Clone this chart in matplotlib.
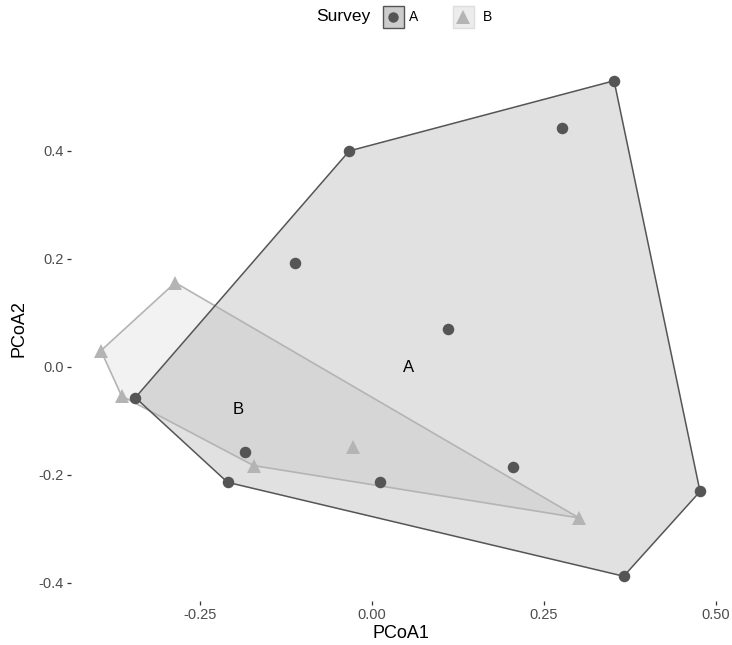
import numpy as np
import matplotlib
matplotlib.use("Agg")
import matplotlib.pyplot as plt
from matplotlib.patches import Polygon, Rectangle
from matplotlib.lines import Line2D

plt.rcParams['font.family'] = ['Liberation Sans', 'DejaVu Sans']

# PCoA site scores, by survey
a_x = [0.352, 0.277, -0.033, -0.112, 0.111, -0.344, -0.184, -0.210, 0.012, 0.205, 0.477, 0.366]
a_y = [0.530, 0.443, 0.400, 0.192, 0.070, -0.057, -0.158, -0.214, -0.214, -0.186, -0.231, -0.388]
b_x = [-0.286, -0.394, -0.364, -0.172, -0.027, 0.301]
b_y = [0.156, 0.030, -0.054, -0.183, -0.149, -0.280]

# group label positions
label_names = ["A", "B"]
label_x = [0.053, -0.194]
label_y = [-0.001, -0.080]

x_ticks = [-0.25, 0.00, 0.25, 0.50]
x_tick_labels = ["-0.25", "0.00", "0.25", "0.50"]
y_ticks = [-0.4, -0.2, 0.0, 0.2, 0.4]
y_tick_labels = ["-0.4", "-0.2", "0.0", "0.2", "0.4"]


def convex_hull(xs, ys):
    pts = sorted(set(zip(xs, ys)))
    if len(pts) <= 2:
        return pts

    def cross(o, a, b):
        return (a[0] - o[0]) * (b[1] - o[1]) - (a[1] - o[1]) * (b[0] - o[0])

    lower, upper = [], []
    for p in pts:
        while len(lower) >= 2 and cross(lower[-2], lower[-1], p) <= 0:
            lower.pop()
        lower.append(p)
    for p in reversed(pts):
        while len(upper) >= 2 and cross(upper[-2], upper[-1], p) <= 0:
            upper.pop()
        upper.append(p)
    return lower[:-1] + upper[:-1]


W, H = 732, 645
fig = plt.figure(figsize=(W / 100, H / 100), dpi=100)
ax = fig.add_axes([71 / W, 1 - 601 / H, (730 - 71) / W, (601 - 56) / H])

col_a = "#555555"
col_b = "#b4b4b4"

# hulls
hull_b = convex_hull(b_x, b_y)
ax.add_patch(Polygon(hull_b, closed=True, facecolor="#b4b4b4", alpha=0.17,
                     edgecolor="none", zorder=1))
ax.add_patch(Polygon(hull_b, closed=True, facecolor="none",
                     edgecolor=col_b, lw=1.2, zorder=2))
hull_a = convex_hull(a_x, a_y)
ax.add_patch(Polygon(hull_a, closed=True, facecolor="#4d4d4d", alpha=0.17,
                     edgecolor="none", zorder=1))
ax.add_patch(Polygon(hull_a, closed=True, facecolor="none",
                     edgecolor=col_a, lw=1.1, zorder=2))

# points
ax.plot(a_x, a_y, linestyle="none", marker="o", markersize=8.3,
        color=col_a, markeredgewidth=0, zorder=4)
ax.plot(b_x, b_y, linestyle="none", marker="^", markersize=10.5,
        color=col_b, markeredgewidth=0, zorder=4)

for name, lx, ly in zip(label_names, label_x, label_y):
    ax.text(lx, ly, name, ha="center", va="center", fontsize=12,
            color="black", zorder=5)

# limits with a 5% margin around the data
all_x = a_x + b_x
all_y = a_y + b_y
rx = max(all_x) - min(all_x)
ry = max(all_y) - min(all_y)
ax.set_xlim(min(all_x) - 0.05 * rx, max(all_x) + 0.05 * rx)
ax.set_ylim(min(all_y) - 0.05 * ry, max(all_y) + 0.05 * ry)

ax.set_xticks(x_ticks)
ax.set_xticklabels(x_tick_labels)
ax.set_yticks(y_ticks)
ax.set_yticklabels(y_tick_labels)
ax.tick_params(axis="both", length=3, width=0.9, color="#333333",
               labelcolor="#4d4d4d", labelsize=10.5, pad=2)
for s in ax.spines.values():
    s.set_visible(False)
ax.set_facecolor("white")

ax.set_xlabel("PCoA1", fontsize=13, labelpad=2)
ax.set_ylabel("PCoA2", fontsize=13, labelpad=8)

# legend across the top
ly_c = 1 - 17 / H
fig.text(343 / W, ly_c, "Survey", ha="center", va="center", fontsize=12.5)
key = 21
for cx, fc, ec, mk, mc, ms, txt, tx in [
    (393, "#cccccc", "#555555", "o", col_a, 7.5, "A", 414),
    (463, "#ececec", "#dddddd", "^", col_b, 9.5, "B", 488),
]:
    fig.add_artist(Rectangle(((cx - key / 2) / W, ly_c - key / 2 / H), key / W, key / H,
                             transform=fig.transFigure, facecolor=fc,
                             edgecolor=ec, lw=1.0))
    fig.add_artist(Line2D([cx / W], [ly_c], transform=fig.transFigure,
                          marker=mk, markersize=ms, color=mc,
                          markeredgewidth=0, linestyle="none"))
    fig.text(tx / W, ly_c, txt, ha="center", va="center", fontsize=10)

fig.savefig("out.png", dpi=100)
